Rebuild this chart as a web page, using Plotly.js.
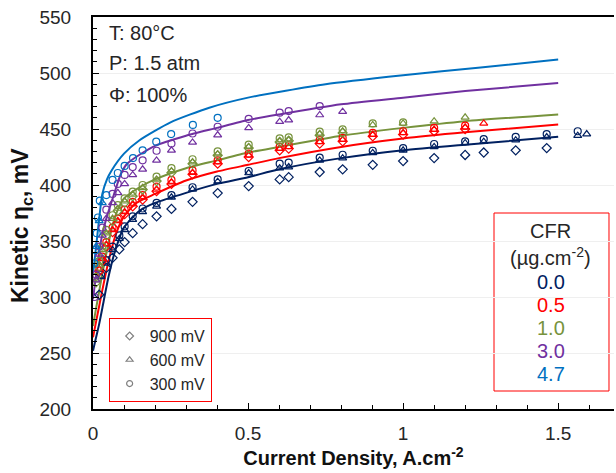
<!DOCTYPE html>
<html>
<head>
<meta charset="utf-8">
<script src="https://cdn.plot.ly/plotly-3.0.1.min.js"></script>
<style>html,body{margin:0;padding:0;background:#fff;}#chart{width:616px;height:473px;}</style>
</head>
<body>
<div id="chart"></div>
<script>
// ---- data ----
const cfrLabels = ["0.0", "0.5", "1.0", "3.0", "4.7"];
const cfrColors = ["#002060", "#FF0000", "#77933C", "#7030A0", "#0070C0"];
const markerLegendNames = ["900 mV", "600 mV", "300 mV"];

// fitted model curves
const navyCurveX = [0, 0.01, 0.02, 0.03, 0.05, 0.07, 0.1, 0.15, 0.2, 0.3, 0.4, 0.5, 0.6, 0.8, 1.0, 1.2, 1.5];
const navyCurveY = [252, 264, 276, 290, 318, 340, 362, 377, 384, 393, 401, 407, 414, 424, 431, 436, 443];
const redCurveX = [0, 0.01, 0.02, 0.03, 0.05, 0.075, 0.1, 0.14, 0.2, 0.3, 0.4, 0.5, 0.6, 0.8, 1.0, 1.2, 1.5];
const redCurveY = [264, 278, 292, 306, 332, 357, 372, 384, 392, 404, 412, 418, 424, 434, 441.5, 447, 454];
const greenCurveX = [0, 0.01, 0.02, 0.03, 0.05, 0.065, 0.08, 0.1, 0.15, 0.2, 0.3, 0.4, 0.5, 0.6, 0.8, 1.0, 1.2, 1.5];
const greenCurveY = [274, 290, 305, 321, 348, 366, 378, 388, 398, 405, 415, 422, 429, 434, 444, 451, 457, 463];
const purpleCurveX = [0, 0.01, 0.02, 0.03, 0.045, 0.06, 0.075, 0.09, 0.11, 0.15, 0.2, 0.3, 0.4, 0.5, 0.6, 0.8, 1.0, 1.2, 1.5];
const purpleCurveY = [298, 320, 340, 356, 372, 385, 398, 410, 419, 427, 435, 444, 451, 458, 463, 472, 478, 484, 491];
const blueCurveX = [0, 0.01, 0.02, 0.03, 0.045, 0.06, 0.1, 0.15, 0.25, 0.375, 0.5, 0.75, 1.0, 1.25, 1.5];
const blueCurveY = [320, 345, 370, 392, 405, 413, 428, 440, 456, 469, 478, 490, 498, 505, 512];

// measured points: CFR 0.0
const navyCircX = [0.026, 0.043, 0.063, 0.085, 0.102, 0.128, 0.16, 0.205, 0.253, 0.321, 0.402, 0.502, 0.602, 0.631, 0.731, 0.805, 0.902, 1.0, 1.1, 1.2, 1.26, 1.363, 1.463, 1.563];
const navyCircY = [320, 333, 345, 355, 363, 372, 379, 384, 391, 398, 405, 412.5, 419, 420, 424.5, 427, 430.6, 433, 436.6, 439, 441, 443, 445.5, 448];
const navyTriX = [0.026, 0.043, 0.063, 0.085, 0.102, 0.128, 0.16, 0.205, 0.253, 0.321, 0.402, 0.502, 0.602, 0.631, 0.731, 0.805, 0.902, 1.0, 1.1, 1.2, 1.26, 1.363, 1.463, 1.563, 1.592];
const navyTriY = [318, 330, 342, 352, 360, 369, 376, 381, 389, 396, 403, 410.7, 415, 416, 422, 424, 428.6, 431, 434, 437.5, 438.7, 440, 442.8, 444, 445.5];
const navyDiaX = [0.02, 0.043, 0.063, 0.085, 0.102, 0.128, 0.16, 0.205, 0.253, 0.321, 0.402, 0.502, 0.602, 0.631, 0.731, 0.805, 0.902, 1.0, 1.1, 1.2, 1.26, 1.363, 1.463];
const navyDiaY = [302, 326, 335, 342.6, 349, 357, 365, 372, 378.6, 385, 392.8, 399, 405, 407, 411.6, 414, 418, 421.4, 424, 426.8, 429, 431, 433];

// CFR 0.5
const redCircX = [0.02, 0.03, 0.043, 0.063, 0.08, 0.102, 0.128, 0.16, 0.205, 0.253, 0.321, 0.402, 0.502, 0.602, 0.631, 0.731, 0.805, 0.902, 1.0, 1.1, 1.2];
const redCircY = [327, 336, 349, 362, 370, 378, 385, 391, 398.5, 404.5, 413, 422, 428, 434, 435.5, 440, 442, 446.5, 448, 451, 453];
const redTriX = [0.02, 0.03, 0.043, 0.063, 0.08, 0.102, 0.128, 0.16, 0.205, 0.253, 0.321, 0.402, 0.502, 0.602, 0.631, 0.731, 0.805, 0.902, 1.0, 1.1, 1.2, 1.26];
const redTriY = [325, 334, 347, 360, 368, 376, 383, 389, 396, 402.5, 411, 420.5, 426.5, 432.5, 434, 438.5, 440.5, 445, 446.5, 449.5, 451.5, 455];
const redDiaX = [0.02, 0.03, 0.043, 0.063, 0.08, 0.102, 0.128, 0.16, 0.205, 0.253, 0.321, 0.402, 0.502, 0.602, 0.631, 0.731, 0.805, 0.902, 1.0, 1.1, 1.2];
const redDiaY = [323, 332, 345, 358, 366, 374, 381, 387, 394.5, 401, 409.5, 419, 425, 431, 432.5, 437, 439, 443.5, 445, 448, 450];

// CFR 1.0
const greenCircX = [0.01, 0.02, 0.03, 0.043, 0.063, 0.08, 0.102, 0.128, 0.16, 0.205, 0.253, 0.321, 0.402, 0.502, 0.602, 0.631, 0.731, 0.805, 0.902, 1.0];
const greenCircY = [318, 332, 345, 360, 373, 382, 388, 394, 400, 407.4, 415, 423, 430, 436, 441.7, 442.6, 447.6, 449.7, 455, 456];
const greenTriX = [0.01, 0.02, 0.03, 0.043, 0.063, 0.08, 0.102, 0.128, 0.16, 0.205, 0.253, 0.321, 0.402, 0.502, 0.602, 0.631, 0.731, 0.805, 0.902, 1.0, 1.1, 1.2];
const greenTriY = [315, 329, 342, 357, 370, 379, 385.5, 391.5, 397.5, 405, 412.5, 420.5, 427.5, 434, 439, 440, 445.5, 448, 453.6, 455, 457, 460.4];
const greenDiaX = [0.01, 0.02, 0.03, 0.043, 0.063, 0.08, 0.102, 0.128, 0.16, 0.205, 0.253, 0.321, 0.402, 0.502, 0.602, 0.631, 0.731, 0.805];
const greenDiaY = [313, 327, 340, 355, 368, 377, 384, 390, 396, 403.5, 411, 419, 426.5, 433, 438.5, 439.5, 444.5, 446.5];

// CFR 3.0
const purpleCircX = [0.005, 0.01, 0.02, 0.03, 0.043, 0.063, 0.08, 0.102, 0.128, 0.16, 0.205, 0.253, 0.321, 0.402, 0.502, 0.602, 0.631, 0.731];
const purpleCircY = [300, 320, 345, 362, 378, 392, 401, 409, 416, 422, 430.6, 437, 446, 452, 459, 464.6, 466, 470.5];
const purpleTriX = [0.01, 0.02, 0.03, 0.043, 0.063, 0.08, 0.102, 0.128, 0.16, 0.205, 0.253, 0.321, 0.402, 0.502, 0.602, 0.631, 0.731, 0.805];
const purpleTriY = [315, 338, 355, 370, 384, 393, 401, 409, 414, 422, 431, 438, 444.6, 451, 456.5, 458, 462.5, 465.5];

// CFR 4.7
const blueCircX = [0.004, 0.008, 0.012, 0.016, 0.022, 0.043, 0.063, 0.08, 0.102, 0.129, 0.16, 0.204, 0.252, 0.322, 0.402];
const blueCircY = [330, 342, 357, 371, 386, 391, 404.5, 410.7, 417, 424, 431, 438.7, 445.5, 453.6, 460];
const blueTriX = [0.01, 0.02, 0.03];
const blueTriY = [345, 368, 384];

// ---- build traces ----
const FONT = "Arial, 'Liberation Sans', sans-serif";
const traces = [];
function curve(x, y, c) {
  traces.push({x: x, y: y, type: "scatter", mode: "lines", line: {color: c, width: 2, shape: "spline", smoothing: 0.6}, showlegend: false, hoverinfo: "skip"});
}
function pts(x, y, c, sym) {
  traces.push({x: x, y: y, type: "scatter", mode: "markers", marker: {symbol: sym, size: 7, color: c, line: {color: c, width: 1.2}}, showlegend: false});
}
curve(navyCurveX, navyCurveY, cfrColors[0]);
curve(redCurveX, redCurveY, cfrColors[1]);
curve(greenCurveX, greenCurveY, cfrColors[2]);
curve(purpleCurveX, purpleCurveY, cfrColors[3]);
curve(blueCurveX, blueCurveY, cfrColors[4]);

pts(navyDiaX, navyDiaY, cfrColors[0], "diamond-open");
pts(navyTriX, navyTriY, cfrColors[0], "triangle-up-open");
pts(navyCircX, navyCircY, cfrColors[0], "circle-open");
pts(redDiaX, redDiaY, cfrColors[1], "diamond-open");
pts(redTriX, redTriY, cfrColors[1], "triangle-up-open");
pts(redCircX, redCircY, cfrColors[1], "circle-open");
pts(greenDiaX, greenDiaY, cfrColors[2], "diamond-open");
pts(greenTriX, greenTriY, cfrColors[2], "triangle-up-open");
pts(greenCircX, greenCircY, cfrColors[2], "circle-open");
pts(purpleTriX, purpleTriY, cfrColors[3], "triangle-up-open");
pts(purpleCircX, purpleCircY, cfrColors[3], "circle-open");
pts(blueTriX, blueTriY, cfrColors[4], "triangle-up-open");
pts(blueCircX, blueCircY, cfrColors[4], "circle-open");

// legend-only entries for the marker types
const legendSymbols = ["diamond-open", "triangle-up-open", "circle-open"];
markerLegendNames.forEach(function (n, i) {
  traces.push({x: [null], y: [null], type: "scatter", mode: "markers", name: n,
    marker: {symbol: legendSymbols[i], size: 6, color: "#7f7f7f", line: {color: "#7f7f7f", width: 1.2}}});
});

// ---- layout ----
const annotations = [
  {text: "T: 80°C", x: 0.027, y: 0.959},
  {text: "P: 1.5 atm", x: 0.027, y: 0.883},
  {text: "Φ: 100%", x: 0.027, y: 0.801}
].map(function (a) {
  return {text: a.text, x: a.x, y: a.y, xref: "paper", yref: "paper", xanchor: "left", yanchor: "middle", showarrow: false, font: {family: FONT, size: 20, color: "#262626"}};
});
const cfrY = [0.324, 0.265, 0.207, 0.148, 0.089];
annotations.push({text: "CFR", x: 0.879, y: 0.454, xref: "paper", yref: "paper", showarrow: false, xanchor: "center", yanchor: "middle", font: {family: FONT, size: 20, color: "#262626"}});
annotations.push({text: "(µg.cm<sup>-2</sup>)", x: 0.879, y: 0.390, xref: "paper", yref: "paper", showarrow: false, xanchor: "center", yanchor: "middle", font: {family: FONT, size: 20, color: "#262626"}});
cfrLabels.forEach(function (l, i) {
  annotations.push({text: l, x: 0.879, y: cfrY[i], xref: "paper", yref: "paper", showarrow: false, xanchor: "center", yanchor: "middle", font: {family: FONT, size: 20, color: cfrColors[i]}});
});

const layout = {
  width: 616, height: 473,
  margin: {l: 93, r: 2, t: 17, b: 64},
  paper_bgcolor: "#fff", plot_bgcolor: "#fff",
  font: {family: FONT, size: 19, color: "#262626"},
  xaxis: {
    range: [0, 1.68], tickvals: [0, 0.5, 1, 1.5], ticktext: ["0", "0.5", "1", "1.5"],
    ticks: "inside", ticklen: 6, tickwidth: 1, tickcolor: "#000", ticklabelstandoff: 6,
    minor: {ticks: "inside", ticklen: 4, dtick: 0.1, tickcolor: "#000", showgrid: false},
    showline: true, linecolor: "#000", linewidth: 2, mirror: true,
    showgrid: false, zeroline: false,
    tickfont: {family: FONT, size: 19, color: "#262626"},
    title: {text: "<b>Current Density, A.cm<sup>-2</sup></b>", font: {family: FONT, size: 20, color: "#111"}, standoff: 6}
  },
  yaxis: {
    range: [200, 550], dtick: 50,
    ticks: "inside", ticklen: 6, tickwidth: 1, tickcolor: "#000", ticklabelstandoff: 16,
    minor: {ticks: "inside", ticklen: 4, dtick: 10, tickcolor: "#000", showgrid: false},
    showline: true, linecolor: "#000", linewidth: 2,
    showgrid: true, gridcolor: "#efefef", gridwidth: 1, zeroline: false,
    tickfont: {family: FONT, size: 19, color: "#262626"},
    title: {text: "<b>Kinetic η<sub>c</sub>, mV&nbsp;&nbsp;&nbsp;&nbsp;</b>", font: {family: FONT, size: 23, color: "#111"}, standoff: 4}
  },
  showlegend: true,
  legend: {x: 0.03, y: 0.232, xanchor: "left", yanchor: "top", bgcolor: "#fff", bordercolor: "#ff0000", borderwidth: 1,
    font: {family: FONT, size: 16, color: "#262626"}, itemwidth: 30, tracegroupgap: 0},
  shapes: [
    {type: "rect", xref: "paper", yref: "paper", x0: 0.7697, x1: 0.9904, y0: 0.0459, y1: 0.5, line: {color: "#ff0000", width: 1}, fillcolor: "#fff", layer: "below"}
  ],
  annotations: annotations
};

Plotly.newPlot("chart", traces, layout, {displayModeBar: false, staticPlot: true});
</script>
</body>
</html>
